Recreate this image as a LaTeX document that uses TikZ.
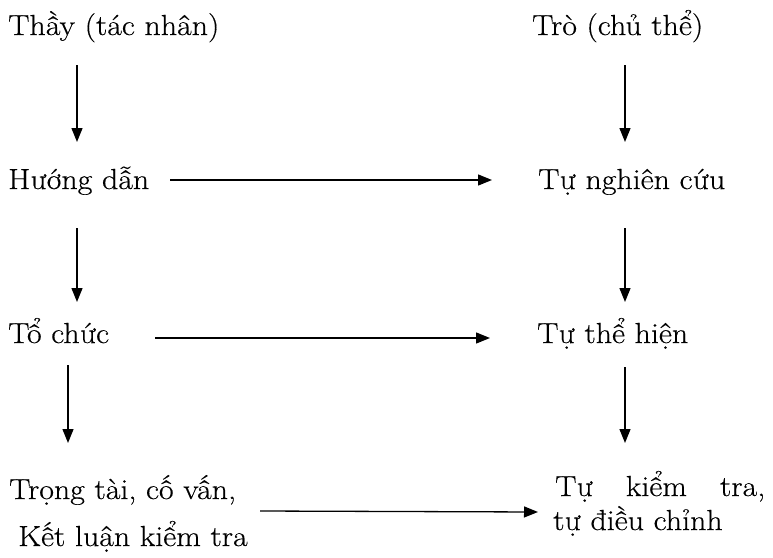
\documentclass[tikz,border=0pt]{standalone}
\usepackage{fontspec}
\setmainfont{Latin Modern Roman}[FakeStretch=1.1,FakeBold=0.4]
\usetikzlibrary{arrows.meta}
\begin{document}
\begin{tikzpicture}[x=1pt,y=-1pt,
  lbl/.style={anchor=base west,inner sep=0pt,font=\fontsize{29}{35}\selectfont},
  arr/.style={line width=1.3pt,-{Triangle[length=14pt,width=11pt]}}]
\useasboundingbox (0,0) rectangle (773,557);
% left column
\node[lbl] (thay) at (8,35) {Thầy (tác nhân)};
\node[lbl] (huong) at (8,189) {Hướng dẫn};
\node[lbl] (tochuc) at (8,343) {Tổ chức};
\node[lbl] (trongtai) at (9,499) {Trọng tài, cố vấn,};
\node[lbl] (ketluan) at (18,546) {Kết luận kiểm tra};
% right column
\node[lbl] (tro) at (532,35) {Trò (chủ thể)};
\node[lbl] (tunc) at (538,189) {Tự nghiên cứu};
\node[lbl] (tuth) at (537,343) {Tự thể hiện};
\node[lbl] (tukt) at (555,496) {\makebox[210pt][s]{Tự kiểm tra,}};
\node[lbl] (tudc) at (553,530) {tự điều chỉnh};
% vertical arrows
\draw[arr] ([shift={(69,30)}]thay.base west) -- ([shift={(69,-47)}]huong.base west);
\draw[arr] ([shift={(69,39)}]huong.base west) -- ([shift={(69,-41)}]tochuc.base west);
\draw[arr] ([shift={(60,22)}]tochuc.base west) -- ([shift={(59,-56)}]trongtai.base west);
\draw[arr] ([shift={(93,30)}]tro.base west) -- ([shift={(87,-47)}]tunc.base west);
\draw[arr] ([shift={(87,39)}]tunc.base west) -- ([shift={(88,-41)}]tuth.base west);
\draw[arr] ([shift={(88,24)}]tuth.base west) -- ([shift={(70,-53)}]tukt.base west);
% horizontal arrows
\draw[arr] ([shift={(162,-9)}]huong.base west) -- ([shift={(-46,-9)}]tunc.base west);
\draw[arr] ([shift={(147,-5)}]tochuc.base west) -- ([shift={(-47,-5)}]tuth.base west);
\draw[arr] ([shift={(251,12)}]trongtai.base west) -- ([shift={(-17,16)}]tukt.base west);
\end{tikzpicture}
\end{document}
